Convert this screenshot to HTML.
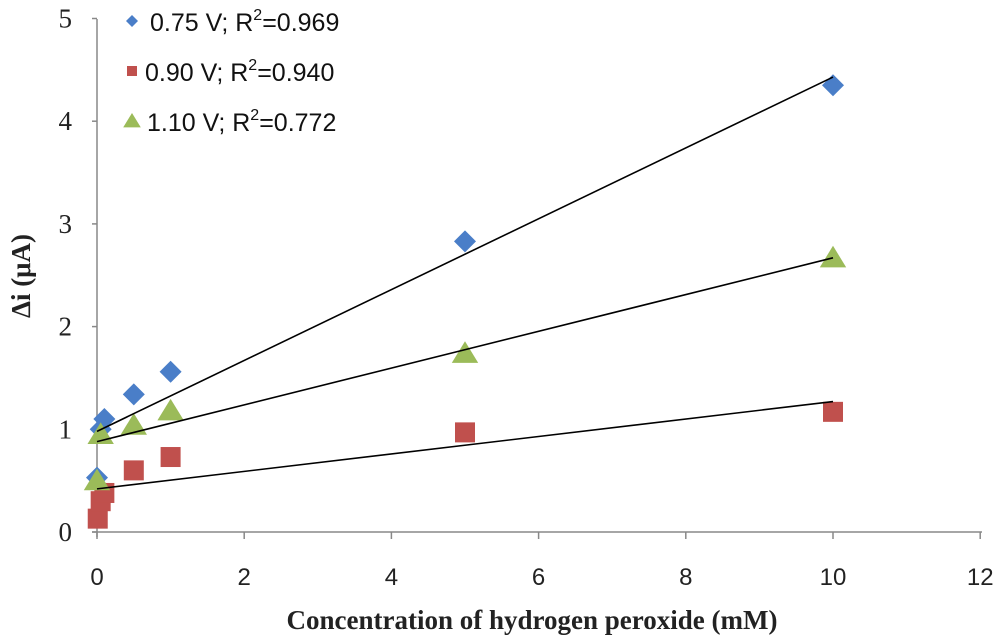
<!DOCTYPE html>
<html><head><meta charset="utf-8"><style>
body{margin:0;background:#fff;}
svg{display:block}
</style></head><body>
<svg id="chart" width="1000" height="638" xmlns="http://www.w3.org/2000/svg"></svg>
<script>
const xTicks=[0,2,4,6,8,10,12];
const yTicks=[0,1,2,3,4,5];
const blueX=[0,0.05,0.1,0.5,1,5,10];
const blueY=[0.53,1.0,1.1,1.34,1.56,2.83,4.35];
const redX=[0.01,0.05,0.1,0.5,1,5,10];
const redY=[0.13,0.3,0.38,0.6,0.73,0.97,1.17];
const greenX=[0,0.05,0.5,1,5,10];
const greenY=[0.5,0.95,1.04,1.18,1.74,2.67];
const trendBlue=[0.98,4.43];
const trendRed=[0.42,1.27];
const trendGreen=[0.88,2.67];
const legendLabels=["0.75 V; R","0.90 V; R","1.10 V; R"];
const legendR2=["=0.969","=0.940","=0.772"];

const NS="http://www.w3.org/2000/svg";
const svg=document.getElementById('chart');
const X=v=>97+v*73.6;
const Y=v=>532-v*102.7;
function mk(t,a,p){const e=document.createElementNS(NS,t);for(const k in a)e.setAttribute(k,a[k]);(p||svg).appendChild(e);return e;}

let ya=mk('line',{x1:97,y1:19,x2:97,y2:537,stroke:'#888','stroke-width':1.5});


let xa=mk('line',{x1:92,y1:532,x2:982,y2:532,stroke:'#888','stroke-width':1.5});


xTicks.forEach(t=>{
  mk('line',{x1:X(t),y1:532,x2:X(t),y2:539,stroke:'#888','stroke-width':1.5});
  const tx=mk('text',{x:X(t),y:585,'text-anchor':'middle','font-family':'Liberation Sans, sans-serif','font-size':24,fill:'#222'});
  tx.textContent=t;
  
  
});
yTicks.forEach(t=>{
  mk('line',{x1:92,y1:Y(t),x2:97,y2:Y(t),stroke:'#888','stroke-width':1.5});
  const tx=mk('text',{x:72,y:Y(t)+9,'text-anchor':'end','font-family':'Liberation Serif, serif','font-size':27,fill:'#222'});
  tx.textContent=t;
  
  
});
let xt=mk('text',{x:532,y:629,'text-anchor':'middle','font-family':'Liberation Serif, serif','font-size':27,'font-weight':'bold',fill:'#222'});
xt.textContent='Concentration of hydrogen peroxide (mM)';


let yt=mk('text',{x:0,y:0,transform:'translate(30,276) rotate(-90)','text-anchor':'middle','font-family':'Liberation Serif, serif','font-size':27,'font-weight':'bold',fill:'#222'});
yt.textContent='Δi  (μA)';



function diamond(x,y,p,s){return mk('polygon',{points:`${x},${y-s} ${x+s},${y} ${x},${y+s} ${x-s},${y}`,fill:'#4a7ec8'},p);}
function square(x,y,p,s){return mk('rect',{x:x-s,y:y-s,width:2*s,height:2*s,fill:'#c0504d'},p);}
function tri(x,y,p,s){return mk('polygon',{points:`${x},${y-s} ${x+s*1.1},${y+s*0.8} ${x-s*1.1},${y+s*0.8}`,fill:'#9bbb59'},p);}

const series=[[blueX,blueY,diamond,11,'series-0-75v'],[redX,redY,square,10,'series-0-90v'],[greenX,greenY,tri,12,'series-1-10v']];
series.forEach(([xs,ys,f,s,n])=>{
  const g=mk('g',{});
  
  
  xs.forEach((v,i)=>{const m=f(X(v),Y(ys[i]),g,s);
    
    });
});
[[trendBlue,'trendline-0-75v'],[trendRed,'trendline-0-90v'],[trendGreen,'trendline-1-10v']].forEach(([t,n])=>{
  const l=mk('line',{x1:X(0),y1:Y(t[0]),x2:X(10),y2:Y(t[1]),stroke:'#000','stroke-width':1.6});
  
  
});

const lg=mk('g',{});


const markers=[diamond,square,tri];
const msz=[6,5,8];
legendLabels.forEach((lab,i)=>{
  const y=21+i*50;
  markers[i](132,y,lg,msz[i]);
  const t=mk('text',{x:i==2?147:i==1?145:150,y:y+10,'font-family':'Liberation Sans, sans-serif','font-size':25,fill:'#111'},lg);
  t.innerHTML=lab+'<tspan dy="-11" font-size="16">2</tspan><tspan dy="11">'+legendR2[i]+'</tspan>';
  
  
});
</script>
</body></html>
